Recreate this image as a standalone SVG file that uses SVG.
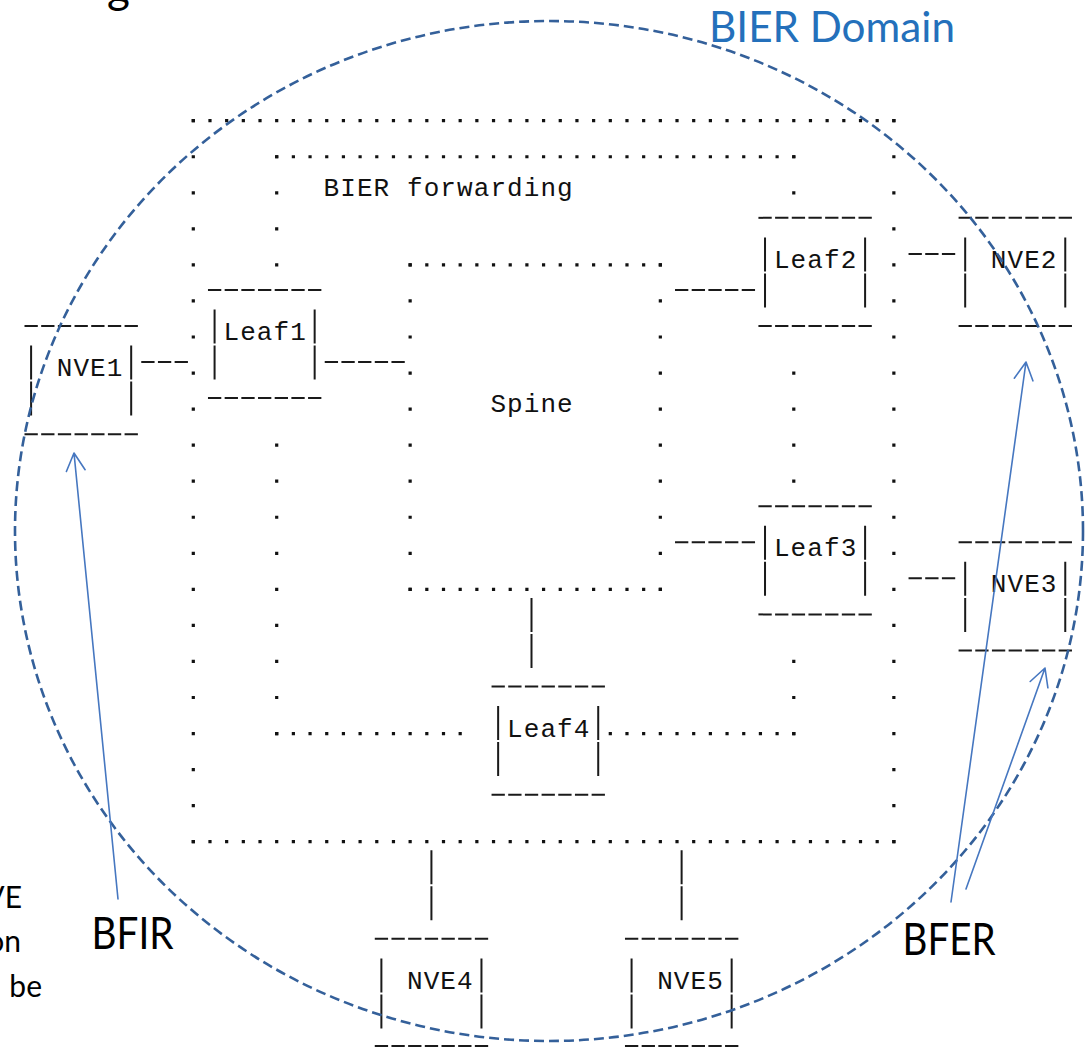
<svg xmlns="http://www.w3.org/2000/svg" width="1091" height="1047" viewBox="0 0 1091 1047">
  <defs>
    <style>
      .hdot { fill: none; stroke: #111; stroke-width: 3.2; stroke-dasharray: 3.2 13.48; }
      .vdot { fill: none; stroke: #111; stroke-width: 3.2; stroke-dasharray: 3.2 32.85; }
      .dash { fill: none; stroke: #1a1a1a; stroke-width: 2; stroke-dasharray: 13.3 3.38; }
      .pipe { fill: none; stroke: #1a1a1a; stroke-width: 2; }
      .lbl { font-family: "Liberation Mono", "DejaVu Sans Mono", monospace; font-size: 26px; fill: #111; text-anchor: middle; }
      .note { font-family: Lato, "Open Sans", sans-serif; fill: #000; }
      .arrow { fill: none; stroke: #4677c0; stroke-width: 1.6; stroke-linecap: round; stroke-linejoin: round; }
    </style>
  </defs>
  <rect width="1091" height="1047" fill="#fff"/>

  <!-- cropped title glyph and side note -->
  <text class="note" x="107" y="3" font-size="44">g</text>
  <text class="note" x="22" y="908" font-size="30" text-anchor="end">VE</text>
  <text class="note" x="21" y="952" font-size="30" text-anchor="end">on</text>
  <text class="note" x="42" y="997" font-size="30" text-anchor="end">be</text>

  <!-- outer dotted frame -->
  <g id="domain-frame">
    <line class="hdot" x1="191.7" y1="120.7" x2="895.46" y2="120.7"/>
    <line class="hdot" x1="191.7" y1="841.7" x2="895.46" y2="841.7"/>
    <line class="vdot" x1="193.3" y1="119.1" x2="193.3" y2="843.3"/>
    <line class="vdot" x1="893.86" y1="119.1" x2="893.86" y2="843.3"/>
  </g>

  <!-- BIER forwarding region -->
  <g id="bier-forwarding">
    <line class="hdot" x1="275.1" y1="156.75" x2="795.38" y2="156.75"/>
    <line class="vdot" x1="276.7" y1="155.15" x2="276.7" y2="266.5"/>
    <line class="vdot" x1="276.7" y1="443.55" x2="276.7" y2="735.15"/>
    <line class="vdot" x1="793.78" y1="155.15" x2="793.78" y2="194.4"/>
    <line class="vdot" x1="793.78" y1="371.45" x2="793.78" y2="482.8"/>
    <line class="vdot" x1="793.78" y1="659.85" x2="793.78" y2="735.15"/>
    <line class="hdot" x1="275.1" y1="733.55" x2="461.78" y2="733.55"/>
    <line class="hdot" x1="608.7" y1="733.55" x2="795.38" y2="733.55"/>
    <text class="lbl" x="331.38 348.06 364.74 381.42 398.1 414.78 431.46 448.14 464.82 481.5 498.18 514.86 531.54 548.22 564.9" y="195.8">BIER forwarding</text>
  </g>

  <!-- Spine -->
  <g id="spine">
    <line class="hdot" x1="408.54" y1="264.9" x2="661.94" y2="264.9"/>
    <line class="hdot" x1="408.54" y1="589.35" x2="661.94" y2="589.35"/>
    <line class="vdot" x1="410.14" y1="263.3" x2="410.14" y2="590.95"/>
    <line class="vdot" x1="660.34" y1="263.3" x2="660.34" y2="590.95"/>
    <text class="lbl" x="498.18 514.86 531.54 548.22 564.9" y="412.1">Spine</text>
  </g>

  <!-- Leaf1 -->
  <g id="leaf1">
    <line class="dash" x1="207.98" y1="289.95" x2="323.04" y2="289.95"/>
    <line class="dash" x1="207.98" y1="398.1" x2="323.04" y2="398.1"/>
    <path class="pipe" d="M214.58 309.5V343.5M214.58 345.55V379.55M314.66 309.5V343.5M314.66 345.55V379.55"/>
    <text class="lbl" x="231.3 247.98 264.66 281.34 298.02" y="340">Leaf1</text>
  </g>

  <!-- Leaf2 -->
  <g id="leaf2">
    <line class="dash" x1="758.42" y1="217.85" x2="873.48" y2="217.85"/>
    <line class="dash" x1="758.42" y1="326" x2="873.48" y2="326"/>
    <path class="pipe" d="M765.02 237.4V271.4M765.02 273.45V307.45M865.1 237.4V271.4M865.1 273.45V307.45"/>
    <text class="lbl" x="781.74 798.42 815.1 831.78 848.46" y="267.9">Leaf2</text>
  </g>

  <!-- Leaf3 -->
  <g id="leaf3">
    <line class="dash" x1="758.42" y1="506.25" x2="873.48" y2="506.25"/>
    <line class="dash" x1="758.42" y1="614.4" x2="873.48" y2="614.4"/>
    <path class="pipe" d="M765.02 525.8V559.8M765.02 561.85V595.85M865.1 525.8V559.8M865.1 561.85V595.85"/>
    <text class="lbl" x="781.74 798.42 815.1 831.78 848.46" y="556.3">Leaf3</text>
  </g>

  <!-- Leaf4 -->
  <g id="leaf4">
    <line class="dash" x1="491.54" y1="686.5" x2="606.6" y2="686.5"/>
    <line class="dash" x1="491.54" y1="794.65" x2="606.6" y2="794.65"/>
    <path class="pipe" d="M498.14 706.05V740.05M498.14 742.1V776.1M598.22 706.05V740.05M598.22 742.1V776.1"/>
    <text class="lbl" x="514.86 531.54 548.22 564.9 581.58" y="736.55">Leaf4</text>
  </g>

  <!-- NVE1 -->
  <g id="nve1">
    <line class="dash" x1="24.5" y1="326" x2="139.56" y2="326"/>
    <line class="dash" x1="24.5" y1="434.15" x2="139.56" y2="434.15"/>
    <path class="pipe" d="M31.1 345.55V379.55M31.1 381.6V415.6M131.18 345.55V379.55M131.18 381.6V415.6"/>
    <text class="lbl" x="64.5 81.18 97.86 114.54" y="376.05">NVE1</text>
  </g>

  <!-- NVE2 -->
  <g id="nve2">
    <line class="dash" x1="958.58" y1="217.85" x2="1073.64" y2="217.85"/>
    <line class="dash" x1="958.58" y1="326" x2="1073.64" y2="326"/>
    <path class="pipe" d="M965.18 237.4V271.4M965.18 273.45V307.45M1065.26 237.4V271.4M1065.26 273.45V307.45"/>
    <text class="lbl" x="998.58 1015.26 1031.94 1048.62" y="267.9">NVE2</text>
  </g>

  <!-- NVE3 -->
  <g id="nve3">
    <line class="dash" x1="958.58" y1="542.3" x2="1073.64" y2="542.3"/>
    <line class="dash" x1="958.58" y1="650.45" x2="1073.64" y2="650.45"/>
    <path class="pipe" d="M965.18 561.85V595.85M965.18 597.9V631.9M1065.26 561.85V595.85M1065.26 597.9V631.9"/>
    <text class="lbl" x="998.58 1015.26 1031.94 1048.62" y="592.35">NVE3</text>
  </g>

  <!-- NVE4 -->
  <g id="nve4">
    <line class="dash" x1="374.78" y1="938.85" x2="489.84" y2="938.85"/>
    <line class="dash" x1="374.78" y1="1046" x2="489.84" y2="1046"/>
    <path class="pipe" d="M381.38 958.4V992.4M381.38 994.45V1028.45M481.46 958.4V992.4M481.46 994.45V1028.45"/>
    <text class="lbl" x="414.78 431.46 448.14 464.82" y="988.9">NVE4</text>
  </g>

  <!-- NVE5 -->
  <g id="nve5">
    <line class="dash" x1="624.98" y1="938.85" x2="740.04" y2="938.85"/>
    <line class="dash" x1="624.98" y1="1046" x2="740.04" y2="1046"/>
    <path class="pipe" d="M631.58 958.4V992.4M631.58 994.45V1028.45M731.66 958.4V992.4M731.66 994.45V1028.45"/>
    <text class="lbl" x="664.98 681.66 698.34 715.02" y="988.9">NVE5</text>
  </g>

  <!-- links between boxes -->
  <g id="connectors">
    <line class="dash" x1="141.26" y1="362.05" x2="189.6" y2="362.05"/>
    <line class="dash" x1="324.74" y1="362.05" x2="406.44" y2="362.05"/>
    <line class="dash" x1="675.02" y1="289.95" x2="756.72" y2="289.95"/>
    <line class="dash" x1="908.54" y1="253.9" x2="956.88" y2="253.9"/>
    <line class="dash" x1="675.02" y1="542.3" x2="756.72" y2="542.3"/>
    <line class="dash" x1="908.54" y1="578.35" x2="956.88" y2="578.35"/>
    <path class="pipe" d="M531.5 597.9V631.9M531.5 633.95V667.95"/>
    <path class="pipe" d="M431.42 850.25V884.25M431.42 886.3V920.3"/>
    <path class="pipe" d="M681.62 850.25V884.25M681.62 886.3V920.3"/>
  </g>

  <!-- BIER domain boundary and role labels -->
  <g id="domain-annotation">
    <ellipse cx="549" cy="531" rx="534" ry="510" fill="none" stroke="#34609a" stroke-width="2.6" stroke-dasharray="10 5"/>
    <text x="709" y="42" font-family="Lato, 'Open Sans', sans-serif" font-size="42" fill="#2470bb" textLength="246" lengthAdjust="spacingAndGlyphs">BIER Domain</text>
    <text class="note" x="91.5" y="948.5" font-size="44" textLength="82" lengthAdjust="spacingAndGlyphs">BFIR</text>
    <text class="note" x="902.5" y="955" font-size="44" textLength="93" lengthAdjust="spacingAndGlyphs">BFER</text>
    <path class="arrow" d="M118 899L74 453M66.4 471.5L74 453L85.1 469.7"/>
    <path class="arrow" d="M951 902L1026 362M1014.3 378.2L1026 362L1032.9 380.8"/>
    <path class="arrow" d="M966 889L1045 668M1030.2 681.5L1045 668L1047.9 687.8"/>
  </g>
</svg>
